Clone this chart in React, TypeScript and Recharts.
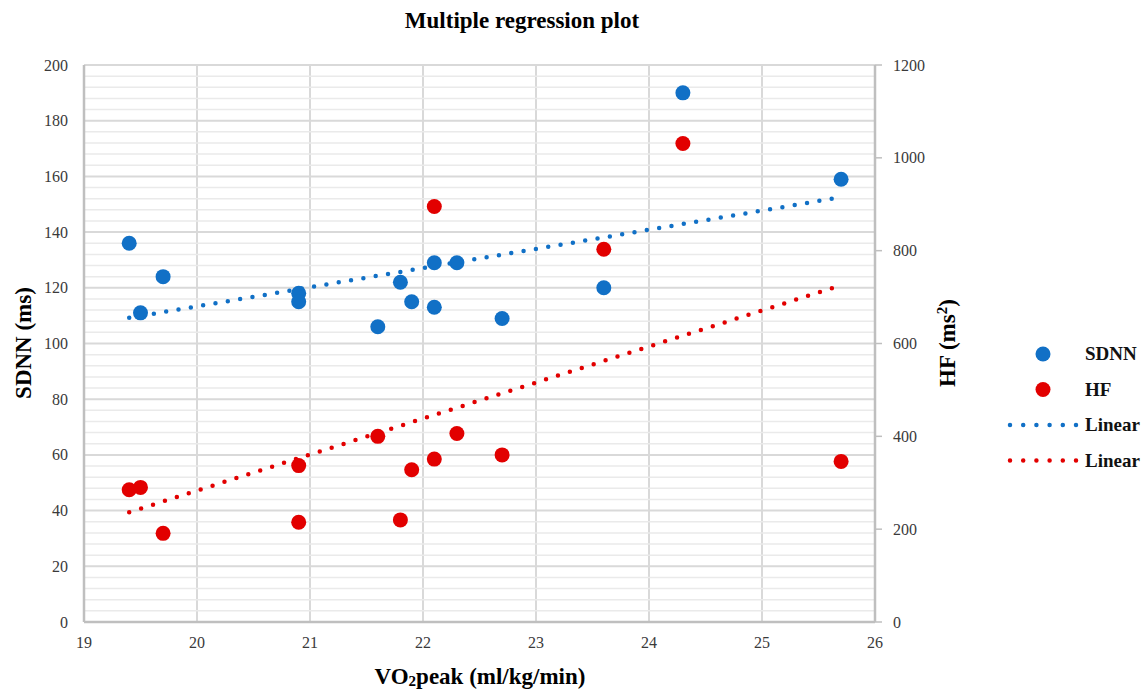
import React from 'react';
import { ScatterChart, Scatter, XAxis, YAxis, CartesianGrid, ReferenceLine } from 'recharts';

document.body.style.margin = '0';

// VO2peak for each subject, with the two measured outcomes
const vo2peak = [19.4, 19.5, 19.7, 20.9, 20.9, 21.6, 21.8, 21.9, 22.1, 22.1, 22.3, 22.7, 23.6, 24.3, 25.7];
const sdnn = [136, 111, 124, 118, 115, 106, 122, 115, 129, 113, 129, 109, 120, 190, 159];
const hf = [285, 290, 191, 337, 215, 400, 220, 328, 351, 895, 406, 360, 803, 1031, 346];

const xTicks = [19, 20, 21, 22, 23, 24, 25, 26];
const sdnnTicks = [0, 20, 40, 60, 80, 100, 120, 140, 160, 180, 200];
const hfTicks = [0, 200, 400, 600, 800, 1000, 1200];
const minorStep = 4;

const BLUE = '#1170C6';
const RED = '#E20000';
const GRID = '#D9D9D9';
const AXIS = '#BFBFBF';
const FONT = '"Liberation Serif", "Times New Roman", serif';

const sdnnData = vo2peak.map((x, i) => ({ x, y: sdnn[i] }));
const hfData = vo2peak.map((x, i) => ({ x, y: hf[i] }));

// least squares fit, drawn between the smallest and largest x
const linearFit = (pts: { x: number; y: number }[]) => {
  const n = pts.length;
  const mx = pts.reduce((s, p) => s + p.x, 0) / n;
  const my = pts.reduce((s, p) => s + p.y, 0) / n;
  let sxy = 0;
  let sxx = 0;
  pts.forEach((p) => {
    sxy += (p.x - mx) * (p.y - my);
    sxx += (p.x - mx) * (p.x - mx);
  });
  const slope = sxy / sxx;
  const xs = pts.map((p) => p.x);
  const lo = Math.min(...xs);
  const hi = Math.max(...xs);
  return [
    { x: lo, y: my + slope * (lo - mx) },
    { x: hi, y: my + slope * (hi - mx) },
  ];
};

const sdnnFit = linearFit(sdnnData);
const hfFit = linearFit(hfData);

const minorLines: number[] = [];
for (let v = minorStep; v < 200; v += minorStep) {
  if (v % 20 !== 0) minorLines.push(v);
}

const dot = (color: string) => (props: any) => (
  <circle cx={props.cx} cy={props.cy} r={7.5} fill={color} />
);
const noShape = () => <g />;

const Tick = (props: any) => {
  const { x, y, payload, textAnchor, orientation } = props;
  const dy = orientation === 'bottom' ? 13 : 5.5;
  return (
    <text x={x} y={y + dy} textAnchor={textAnchor} fontFamily={FONT} fontSize={16} fill="#3a3a3a"
      style={{ fontFamily: FONT }}>
      {payload.value}
    </text>
  );
};

const legendItems = [
  { name: 'SDNN', color: BLUE, kind: 'dot' },
  { name: 'HF', color: RED, kind: 'dot' },
  { name: 'Linear', color: BLUE, kind: 'line' },
  { name: 'Linear', color: RED, kind: 'line' },
];

const titleProps = { fontFamily: FONT, fontWeight: 'bold' as const, fill: '#000' };

const App = () => (
  <div style={{ position: 'relative', width: 1143, height: 689, background: '#fff', fontFamily: FONT }}>
    <ScatterChart width={1143} height={689} margin={{ top: 65, right: 208, bottom: 37, left: 24 }}
      style={{ fontFamily: FONT }}>
      {minorLines.map((v) => (
        <ReferenceLine key={v} yAxisId="left" y={v} stroke="#EAEAEA" strokeWidth={1.5} />
      ))}
      <CartesianGrid yAxisId="left" stroke={GRID} strokeWidth={2} />
      <XAxis
        type="number"
        dataKey="x"
        domain={[19, 26]}
        ticks={xTicks}
        tickLine={false}
        axisLine={{ stroke: AXIS, strokeWidth: 2.5 }}
        tick={<Tick />}
        tickSize={6}
        tickMargin={7}
        height={30}
      />
      <YAxis
        yAxisId="left"
        type="number"
        dataKey="y"
        domain={[0, 200]}
        ticks={sdnnTicks}
        tickLine={false}
        axisLine={{ stroke: AXIS, strokeWidth: 2.5 }}
        tick={<Tick />}
        tickSize={6}
        tickMargin={10}
        width={60}
      />
      <YAxis
        yAxisId="right"
        orientation="right"
        type="number"
        dataKey="y"
        domain={[0, 1200]}
        ticks={hfTicks}
        tickLine={{ stroke: AXIS, strokeWidth: 1.5 }}
        axisLine={{ stroke: AXIS, strokeWidth: 2.5 }}
        tick={<Tick />}
        tickSize={7}
        tickMargin={11}
        width={60}
      />
      <Scatter name="SDNN" yAxisId="left" data={sdnnData} shape={dot(BLUE)} isAnimationActive={false} />
      <Scatter name="HF" yAxisId="right" data={hfData} shape={dot(RED)} isAnimationActive={false} />
      <Scatter
        name="Linear"
        yAxisId="left"
        data={sdnnFit}
        shape={noShape}
        line={{ stroke: BLUE, strokeWidth: 4.5, strokeLinecap: 'round', strokeDasharray: '0 12.5' }}
        isAnimationActive={false}
      />
      <Scatter
        name="Linear"
        yAxisId="right"
        data={hfFit}
        shape={noShape}
        line={{ stroke: RED, strokeWidth: 4.5, strokeLinecap: 'round', strokeDasharray: '0 12.5' }}
        isAnimationActive={false}
      />
    </ScatterChart>
    <svg width={1143} height={689} style={{ position: 'absolute', left: 0, top: 0, pointerEvents: 'none' }}>
      <text x={522} y={28} textAnchor="middle" fontSize={23} {...titleProps}>
        Multiple regression plot
      </text>
      <text x={480} y={684} textAnchor="middle" fontSize={23} {...titleProps}>
        VO<tspan fontSize={15} dy={2}>2</tspan><tspan dy={-2}>peak (ml/kg/min)</tspan>
      </text>
      <text transform="translate(31 343) rotate(-90)" textAnchor="middle" fontSize={23} {...titleProps}>
        SDNN (ms)
      </text>
      <text transform="translate(955 343) rotate(-90)" textAnchor="middle" fontSize={23} {...titleProps}>
        HF (ms<tspan fontSize={15} dy={-8}>2</tspan><tspan dy={8}>)</tspan>
      </text>
      {legendItems.map((it, i) => {
        const cy = 354 + i * 35.5;
        return (
          <g key={i}>
            {it.kind === 'dot' ? (
              <circle cx={1043} cy={cy} r={7.5} fill={it.color} />
            ) : (
              <line x1={1010} y1={cy} x2={1076} y2={cy} stroke={it.color} strokeWidth={4.5}
                strokeLinecap="round" strokeDasharray="0 13.2" />
            )}
            <text x={1085} y={cy + 6} fontSize={19} {...titleProps} fill="#111">
              {it.name}
            </text>
          </g>
        );
      })}
    </svg>
  </div>
);

export default App;
